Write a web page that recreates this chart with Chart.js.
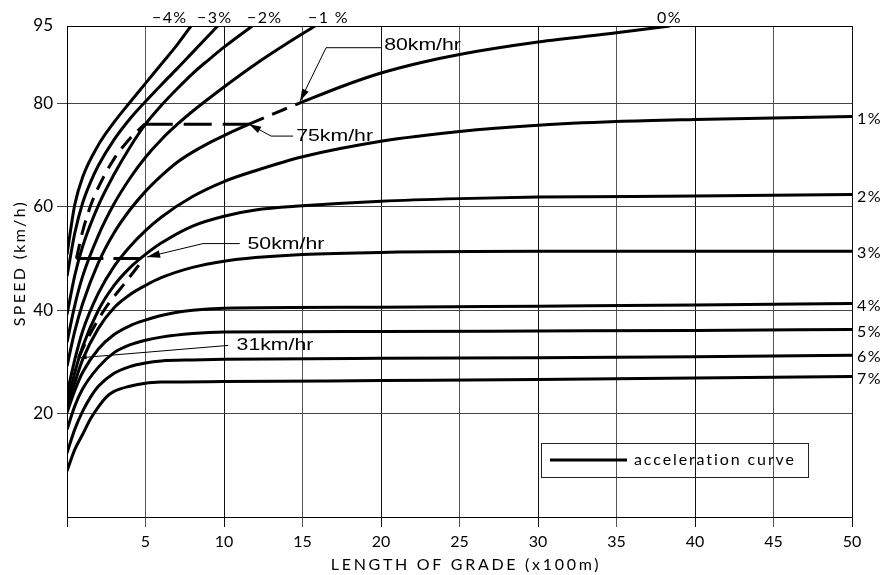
<!DOCTYPE html>
<html>
<head>
<meta charset="utf-8">
<script src="https://cdn.jsdelivr.net/npm/chart.js@4.4.1/dist/chart.umd.min.js"></script>
<style>
body{margin:0;background:#fff;}
#wrap{width:884px;height:575px;position:relative;}
</style>
</head>
<body>
<div id="wrap"><canvas id="myChart"></canvas></div>
<script>
// length of grade (x100m) and speed (km/h) for each acceleration curve
var len_m4 = [0, 0.5, 1, 2, 3, 4, 5, 6, 7, 7.9];
var spd_m4 = [50.8, 60.5, 65.8, 72, 76.4, 80.2, 83.9, 87.6, 91.3, 95];
var len_m3 = [0, 0.5, 1, 1.5, 2, 3, 4, 5, 6, 7, 8, 9.6];
var spd_m3 = [46.6, 55, 60.8, 64.8, 68, 73, 77, 80.4, 83.6, 86.7, 89.9, 95];
var len_m2 = [0, 0.5, 1, 2, 3, 4, 5, 6, 7, 8, 9, 10, 11.8];
var spd_m2 = [39.2, 46.8, 52.4, 60.3, 66.3, 71.5, 76, 79.6, 82.8, 85.8, 88.4, 90.9, 95];
var len_m1 = [0, 0.5, 1, 2, 3, 4, 5, 6, 7, 8, 10, 12, 14, 15.8];
var spd_m1 = [33.8, 41, 46.6, 54.5, 60.6, 65.5, 69.6, 73, 75.9, 78.5, 83.2, 87.6, 91.6, 95];
var len_0 = [0, 0.5, 1, 2, 3, 4, 5, 6, 7, 8, 9, 10, 11.6, 13.3, 15, 17.5, 20, 22.5, 25, 30, 35, 38.4];
var spd_0 = [29.2, 36, 41.3, 49.2, 55, 59.4, 63, 66, 68.6, 70.6, 72.3, 73.8, 76, 78.2, 80.3, 83.3, 85.9, 87.9, 89.5, 91.9, 93.7, 95];
var len_p1 = [0, 0.5, 1, 2, 3, 4, 5, 6, 8, 10, 12, 15, 20, 25, 30, 35, 40, 45, 50];
var spd_p1 = [23.8, 30.5, 36, 43.3, 48.5, 52.3, 55.4, 58, 62, 64.9, 67, 69.7, 72.7, 74.6, 75.8, 76.5, 76.9, 77.2, 77.5];
var len_p2 = [0, 0.5, 1, 2, 3, 4, 5, 6, 8, 10, 12, 15, 20, 25, 30, 40, 50];
var spd_p2 = [21.8, 28, 33, 40, 44.8, 48.2, 50.8, 53, 56.3, 58.2, 59.4, 60.2, 61.1, 61.6, 61.9, 62.1, 62.4];
var len_p3 = [0, 0.5, 1, 2, 3, 4, 5, 6, 8, 10, 12, 15, 20, 30, 40, 50];
var spd_p3 = [20.8, 26, 30.5, 36.5, 40.5, 43, 44.8, 46.3, 48.3, 49.5, 50.2, 50.8, 51.2, 51.4, 51.4, 51.4];
var len_p4 = [0, 0.5, 1, 2, 3, 4, 5, 6, 8, 10, 20, 30, 40, 50];
var spd_p4 = [20.2, 24.5, 28, 32.5, 35.3, 37, 38.1, 39, 40, 40.4, 40.6, 40.8, 41, 41.3];
var len_p5 = [0, 0.5, 1, 2, 3, 4, 5, 6, 8, 10, 20, 30, 40, 50];
var spd_p5 = [16.9, 21.5, 24.8, 29, 31.8, 33.3, 34.2, 34.8, 35.5, 35.8, 35.9, 36, 36.1, 36.3];
var len_p6 = [0, 0.5, 1, 1.5, 2, 3, 4, 5, 6, 8, 10, 20, 30, 40, 50];
var spd_p6 = [12.4, 17, 20.5, 23.2, 25.3, 27.8, 29.1, 29.8, 30.2, 30.4, 30.5, 30.7, 30.8, 31, 31.3];
var len_p7 = [0, 0.5, 1, 1.5, 2, 2.5, 3, 4, 5, 6, 10, 20, 30, 40, 50];
var spd_p7 = [8.9, 13.1, 16, 19, 21.3, 23.2, 24.3, 25.3, 25.9, 26.1, 26.2, 26.4, 26.6, 26.9, 27.2];

// dashed example path
var len_dA = [0.6, 1, 1.5, 2, 3, 4, 4.95];
var spd_dA = [50, 55.3, 60.2, 63.8, 69.3, 73.2, 76];
var len_dB = [0.73, 1.3, 2.4, 3.7, 4.9];
var spd_dB = [30.8, 34.4, 40.2, 45.3, 50];
var len_h75 = [4.95, 11.6];
var spd_h75 = [76, 76];
var len_h50 = [0.6, 4.95];
var spd_h50 = [50, 50];
var dash0 = [11.6, 15]; // part of the 0% curve drawn dashed

var ticksX = [0, 5, 10, 15, 20, 25, 30, 35, 40, 45, 50];
var ticksY = [20, 40, 60, 80, 95];

var rightLabels = ['1%', '2%', '3%', '4%', '5%', '6%', '7%'];
var rightSpeeds = [spd_p1, spd_p2, spd_p3, spd_p4, spd_p5, spd_p6, spd_p7];

var CAD = 'Lato';

function pts(xs, ys) {
    return xs.map(function(x, i){ return {x: x, y: ys[i]}; });
}

function curva(label, xs, ys, dash)
{
    return {
        label: label,
        data: pts(xs, ys),
        borderColor: '#000',
        borderWidth: 3,
        borderDash: dash || [],
        pointRadius: 0,
        fill: false,
        cubicInterpolationMode: 'monotone'
    };
}

var ceroPct = curva('0%', len_0, spd_0);
ceroPct.segment = {
    borderDash: function(c) {
        return (c.p0.parsed.x >= dash0[0] - 0.01 && c.p1.parsed.x <= dash0[1] + 0.01) ? [16, 9] : undefined;
    }
};

function flecha(ctx, x1, y1, x2, y2, size)
{
    var a = Math.atan2(y2 - y1, x2 - x1);
    ctx.beginPath();
    ctx.moveTo(x2, y2);
    ctx.lineTo(x2 - size * Math.cos(a) + size * 0.3 * Math.sin(a), y2 - size * Math.sin(a) - size * 0.3 * Math.cos(a));
    ctx.lineTo(x2 - size * Math.cos(a) - size * 0.3 * Math.sin(a), y2 - size * Math.sin(a) + size * 0.3 * Math.cos(a));
    ctx.closePath();
    ctx.fill();
}

function texto(ctx, s, x, y, font, spacing, align)
{
    ctx.save();
    ctx.font = font;
    ctx.letterSpacing = spacing || '0px';
    ctx.textAlign = align || 'left';
    ctx.textBaseline = 'middle';
    ctx.fillText(s, x, y);
    ctx.restore();
}

// km/hr labels are a wider sans, stretch them horizontally
function etiqueta(ctx, s, x, y)
{
    ctx.save();
    ctx.translate(x, y);
    ctx.scale(1.25, 1);
    ctx.font = '17px "Liberation Sans", Arial, sans-serif';
    ctx.textAlign = 'left';
    ctx.textBaseline = 'middle';
    ctx.fillText(s, 0, 0);
    ctx.restore();
}

var textos = {
    id: 'textos',
    afterDraw: function(chart) {
        var ctx = chart.ctx, sx = chart.scales.x, sy = chart.scales.y, ca = chart.chartArea;
        var X = function(v){ return sx.getPixelForValue(v); };
        var Y = function(v){ return sy.getPixelForValue(v); };
        ctx.save();
        ctx.fillStyle = '#000';
        ctx.strokeStyle = '#000';

        // grade labels at top
        var f = '400 16px ' + CAD;
        texto(ctx, '\u22124%', 152, 18, f, '1.4px');
        texto(ctx, '\u22123%', 197, 18, f, '1.4px');
        texto(ctx, '\u22122%', 247, 18, f, '1.4px');
        texto(ctx, '\u22121 %', 308, 18, f, '1.4px');
        texto(ctx, '0%', 657, 18, f, '1.4px');
        // grade labels at right
        for (var i = 0; i < rightLabels.length; i++) {
            var s = rightSpeeds[i];
            texto(ctx, rightLabels[i], ca.right + 5, Y(s[s.length - 1]) + 2, f, '1.4px');
        }

        // leaders
        ctx.lineWidth = 1;
        ctx.beginPath();
        ctx.moveTo(X(20.0), Y(90.8)); ctx.lineTo(X(16.5), Y(90.8)); ctx.lineTo(X(14.85), Y(80.5));
        ctx.moveTo(X(14.4), Y(73.7)); ctx.lineTo(X(13.0), Y(73.7)); ctx.lineTo(X(11.6), Y(76));
        ctx.moveTo(X(11.0), Y(52.9)); ctx.lineTo(X(8.66), Y(52.9)); ctx.lineTo(X(5.1), Y(50.3));
        ctx.moveTo(X(10.27), Y(33.2)); ctx.lineTo(X(0.8), Y(30.8));
        ctx.stroke();
        flecha(ctx, X(16.5), Y(90.8), X(14.85), Y(80.5), 12);
        flecha(ctx, X(13.0), Y(73.7), X(11.6), Y(76), 12);
        flecha(ctx, X(8.66), Y(52.9), X(5.1), Y(50.3), 13);
        flecha(ctx, X(10.27), Y(33.2), X(0.8), Y(30.8), 7);

        etiqueta(ctx, '80km/hr', X(20.2), Y(90.8) - 2);
        etiqueta(ctx, '75km/hr', X(14.6), Y(73.7));
        etiqueta(ctx, '50km/hr', X(11.5), Y(52.9) + 1);
        etiqueta(ctx, '31km/hr', X(10.8), Y(33.2));

        // legend box
        ctx.lineWidth = 1;
        ctx.strokeStyle = '#222';
        ctx.strokeRect(541.5, 443.5, 267, 34);
        ctx.lineWidth = 3;
        ctx.strokeStyle = '#000';
        ctx.beginPath(); ctx.moveTo(550, 460); ctx.lineTo(627, 460); ctx.stroke();
        texto(ctx, 'acceleration curve', 634, 460, f, '1.9px');

        // axis titles
        texto(ctx, 'LENGTH OF GRADE (x100m)', 466, 565, '400 16px ' + CAD, '2.7px', 'center');
        ctx.translate(20, 263);
        ctx.rotate(-Math.PI / 2);
        texto(ctx, 'SPEED (km/h)', 0, 0, '400 16px ' + CAD, '2.3px', 'center');
        ctx.restore();
    }
};

var ctx = document.getElementById('myChart');
var grafica = new Chart(ctx, {
    type: 'line',
    data: {
        datasets: [
            curva('-4%', len_m4, spd_m4),
            curva('-3%', len_m3, spd_m3),
            curva('-2%', len_m2, spd_m2),
            curva('-1%', len_m1, spd_m1),
            ceroPct,
            curva('1%', len_p1, spd_p1),
            curva('2%', len_p2, spd_p2),
            curva('3%', len_p3, spd_p3),
            curva('4%', len_p4, spd_p4),
            curva('5%', len_p5, spd_p5),
            curva('6%', len_p6, spd_p6),
            curva('7%', len_p7, spd_p7),
            curva('path A', len_dA, spd_dA, [15, 9]),
            curva('path B', len_dB, spd_dB, [15, 9]),
            curva('75', len_h75, spd_h75, [28, 11]),
            curva('50', len_h50, spd_h50, [27, 10])
        ]
    },
    options: {
        responsive: true,
        maintainAspectRatio: false,
        animation: false,
        layout: { padding: { top: 26, right: 32, left: 0, bottom: 0 } },
        plugins: { legend: { display: false }, tooltip: { enabled: false } },
        scales: {
            x: {
                type: 'linear', min: 0, max: 50,
                afterFit: function(s){ s.height = 58; },
                afterBuildTicks: function(s){ s.ticks = ticksX.map(function(v){ return {value: v}; }); },
                ticks: {
                    callback: function(v){ return v === 0 ? '' : v; },
                    font: { family: CAD, size: 16, weight: '400' },
                    color: '#000', padding: 5, maxRotation: 0, autoSkip: false
                },
                grid: {
                    color: function(c){ return (c.tick && c.tick.value % 10 === 0) ? '#111' : '#555'; },
                    tickColor: function(c){ return (c.tick && c.tick.value % 10 === 0) ? '#111' : '#555'; },
                    tickLength: 10, lineWidth: 1
                },
                border: { color: '#000', width: 1 }
            },
            y: {
                type: 'linear', min: 0, max: 95,
                afterFit: function(s){ s.width = 67; },
                afterBuildTicks: function(s){ s.ticks = ticksY.map(function(v){ return {value: v}; }); },
                ticks: {
                    font: { family: CAD, size: 17, weight: '400' },
                    color: '#000', padding: 4
                },
                grid: {
                    color: function(c){ return (c.tick && c.tick.value === 95) ? '#000' : '#444'; },
                    tickColor: function(c){ return (c.tick && c.tick.value === 95) ? 'rgba(0,0,0,0)' : '#444'; },
                    tickLength: 10, lineWidth: 1
                },
                border: { color: '#000', width: 1 }
            }
        }
    },
    plugins: [textos]
});
</script>
</body>
</html>
